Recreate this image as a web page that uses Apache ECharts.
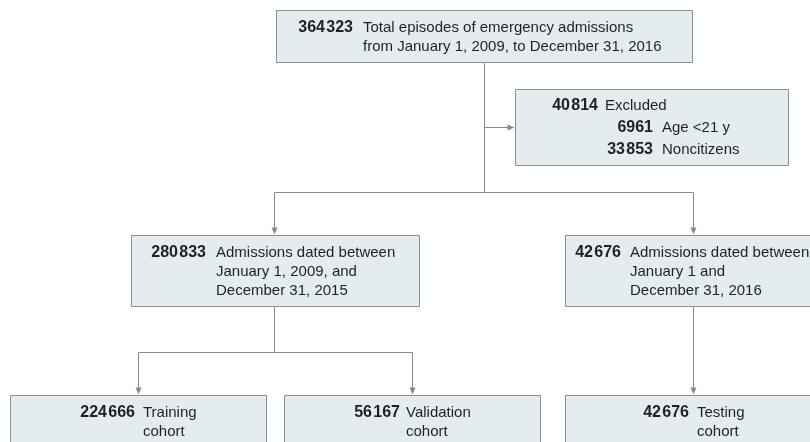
<!DOCTYPE html>
<html>
<head>
<meta charset="utf-8">
<script src="https://cdn.jsdelivr.net/npm/echarts@6/dist/echarts.min.js"></script>
<style>
  html, body { margin: 0; padding: 0; background: #fff; }
  #chart { width: 810px; height: 442px; }
</style>
</head>
<body>
<div id="chart"></div>
<script>
// Counts and captions of the flow boxes (top to bottom, left to right)
const boxCounts = [364323, 40814, 280833, 42676, 224666, 56167, 42676];
const boxLabels = [
  ['Total episodes of emergency admissions', 'from January 1, 2009, to December 31, 2016'],
  ['Excluded'],
  ['Admissions dated between', 'January 1, 2009, and', 'December 31, 2015'],
  ['Admissions dated between', 'January 1 and', 'December 31, 2016'],
  ['Training', 'cohort'],
  ['Validation', 'cohort'],
  ['Testing', 'cohort']
];
// Breakdown of the excluded box
const exclusionCounts = [6961, 33853];
const exclusionLabels = ['Age <21 y', 'Noncitizens'];

// Layout, in page pixels (x0, y0, x1, y1)
const boxRects = [
  [276, 10, 692, 62],
  [515, 89, 788, 165],
  [131, 235, 419, 306],
  [565, 235, 821, 306],
  [10, 395, 266, 455],
  [284, 395, 540, 455],
  [565, 395, 821, 455]
];
// right edge of the count, left edge of the caption, first line centre
const textAnchors = [
  [353, 363, 28],
  [598, 605, 106],
  [206, 216, 253],
  [621, 630, 253],
  [135, 143, 413],
  [400, 406, 413],
  [689, 697, 413]
];
const lineGap = 19;
const subAnchor = [653, 662, 128, 21.5];

// connectors: polyline points, arrow at the end or not
const connectors = [
  [[[484, 62], [484, 192]], false],
  [[[484, 127], [515, 127]], true],
  [[[274, 192], [693, 192]], false],
  [[[274, 192], [274, 235]], true],
  [[[693, 192], [693, 235]], true],
  [[[274, 306], [274, 352]], false],
  [[[138, 352], [412, 352]], false],
  [[[138, 352], [138, 395]], true],
  [[[412, 352], [412, 395]], true],
  [[[693, 306], [693, 395]], true]
];

const FONT = "'Liberation Sans', Arial, sans-serif";
const FONT_SIZE = 15;
const NUM_SIZE = 16;

const fmt = n => {
  const s = String(n);
  if (n < 10000) return s;
  return s.slice(0, s.length - 3) + '\u200a' + s.slice(-3);
};

const chart = echarts.init(document.getElementById('chart'));

const crisp = v => Math.round(v) + 0.5;

function textEl(text, pt, align, bold) {
  return {
    type: 'text',
    style: {
      text: text, x: pt[0], y: pt[1],
      align: align, verticalAlign: 'middle',
      fontFamily: FONT, fontSize: bold ? NUM_SIZE : FONT_SIZE,
      fontWeight: bold ? 'bold' : 'normal', fill: '#231f20'
    }
  };
}

function renderBox(params, api) {
  const i = api.value(0);
  const r = boxRects[i];
  const a = textAnchors[i];
  const p0 = api.coord([r[0], r[1]]);
  const p1 = api.coord([r[2], r[3]]);
  const children = [{
    type: 'rect',
    shape: {x: crisp(p0[0]), y: crisp(p0[1]), width: Math.round(p1[0] - p0[0]), height: Math.round(p1[1] - p0[1])},
    style: {fill: '#e5ecf0', stroke: '#8e8e8e', lineWidth: 1}
  }];
  children.push(textEl(fmt(boxCounts[i]), api.coord([a[0], a[2]]), 'right', true));
  boxLabels[i].forEach((line, k) => {
    children.push(textEl(line, api.coord([a[1], a[2] + k * lineGap]), 'left', false));
  });
  if (i === 1) {
    exclusionCounts.forEach((c, k) => {
      const y = subAnchor[2] + k * subAnchor[3];
      children.push(textEl(fmt(c), api.coord([subAnchor[0], y]), 'right', true));
      children.push(textEl(exclusionLabels[k], api.coord([subAnchor[1], y]), 'left', false));
    });
  }
  return {type: 'group', children: children};
}

function renderConnector(params, api) {
  const c = connectors[api.value(0)];
  const pts = c[0].map(p => api.coord(p)).map(p => [crisp(p[0]), crisp(p[1])]);
  const children = [];
  const end = pts[pts.length - 1];
  const prev = pts[pts.length - 2];
  const head = 7, half = 3;
  const dx = Math.sign(end[0] - prev[0]), dy = Math.sign(end[1] - prev[1]);
  const lineEnd = c[1] ? [end[0] - dx * head, end[1] - dy * head] : end;
  children.push({
    type: 'polyline',
    shape: {points: pts.slice(0, -1).concat([lineEnd])},
    style: {stroke: '#8a8a8a', lineWidth: 1, fill: null}
  });
  if (c[1]) {
    const tip = [end[0] - dx, end[1] - dy];
    const base = [tip[0] - dx * head, tip[1] - dy * head];
    children.push({
      type: 'polygon',
      shape: {points: [tip, [base[0] + dy * half, base[1] + dx * half], [base[0] - dy * half, base[1] - dx * half]]},
      style: {fill: '#8a8a8a'}
    });
  }
  return {type: 'group', children: children};
}

chart.setOption({
  animation: false,
  grid: {left: 0, right: 0, top: 0, bottom: 0},
  xAxis: {type: 'value', min: 0, max: 810, show: false},
  yAxis: {type: 'value', min: 0, max: 442, inverse: true, show: false},
  series: [
    {
      type: 'custom',
      renderItem: renderConnector,
      data: connectors.map((c, i) => [i]),
      encode: {x: -1, y: -1},
      silent: true
    },
    {
      type: 'custom',
      renderItem: renderBox,
      data: boxCounts.map((c, i) => [i]),
      encode: {x: -1, y: -1},
      silent: true,
      z: 3
    }
  ]
});
</script>
</body>
</html>
